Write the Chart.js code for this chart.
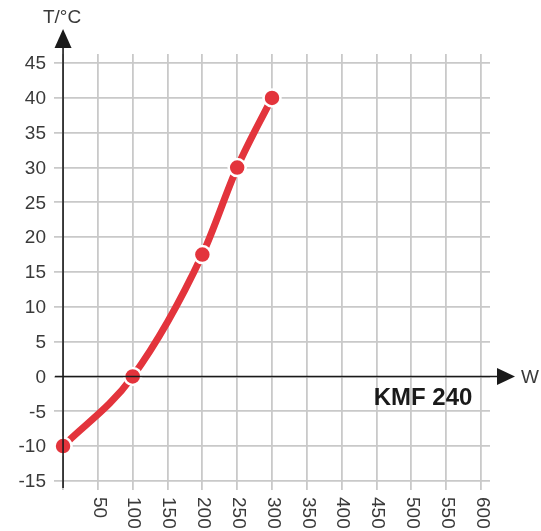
<!DOCTYPE html>
<html>
<head>
<meta charset="utf-8">
<script src="https://cdn.jsdelivr.net/npm/chart.js@4/dist/chart.umd.min.js"></script>
<style>
  html, body { margin: 0; padding: 0; background: #fff; }
  #wrap { width: 541px; height: 531px; }
</style>
</head>
<body>
<div id="wrap"><canvas id="kmf"></canvas></div>
<script>
  // data
  var powerW = [0, 100, 200, 250, 300];
  var tempC = [-10, 0, 17.5, 30, 40];
  var xTicks = [0, 50, 100, 150, 200, 250, 300, 350, 400, 450, 500, 550, 600];
  var yTicks = [-15, -10, -5, 0, 5, 10, 15, 20, 25, 30, 35, 40, 45];
  var label = "KMF 240";

  var RED = "#e3343c", INK = "#1a1a1a", TXT = "#3a3a3a";
  var FONT = "'Liberation Sans', Arial, sans-serif";

  // axes with arrows, tick labels and the curve name
  var axesPlugin = {
    id: "axes",
    afterDraw: function (c) {
      var ctx = c.ctx, xs = c.scales.x, ys = c.scales.y, a = c.chartArea;
      var x0 = xs.getPixelForValue(0), y0 = ys.getPixelForValue(0);
      ctx.save();
      ctx.strokeStyle = INK; ctx.fillStyle = INK; ctx.lineWidth = 1.6;
      ctx.beginPath();
      ctx.moveTo(x0, a.bottom - 2); ctx.lineTo(x0, 40);
      ctx.moveTo(a.left + 1, y0); ctx.lineTo(502, y0);
      ctx.stroke();
      ctx.beginPath();
      ctx.moveTo(x0, 29); ctx.lineTo(x0 - 8.5, 48); ctx.lineTo(x0 + 8.5, 48); ctx.closePath(); ctx.fill();
      ctx.beginPath();
      ctx.moveTo(515, y0); ctx.lineTo(497, y0 - 8.5); ctx.lineTo(497, y0 + 8.5); ctx.closePath(); ctx.fill();

      ctx.fillStyle = TXT;
      ctx.font = "19px " + FONT;
      ctx.textAlign = "center"; ctx.textBaseline = "middle";
      ctx.fillText("T/°C", x0 - 1, 18);
      ctx.textAlign = "left";
      ctx.fillText("W", 521, y0 + 1);

      ctx.textAlign = "right";
      ys.ticks.forEach(function (t) {
        ctx.fillText(String(t.value), 46, ys.getPixelForValue(t.value) + 1);
      });
      xs.ticks.forEach(function (t) {
        if (t.value === 0) return;
        ctx.save();
        ctx.translate(xs.getPixelForValue(t.value) + 1, 497);
        ctx.rotate(Math.PI / 2);
        ctx.textAlign = "left"; ctx.textBaseline = "middle";
        ctx.fillText(String(t.value), 0, 0);
        ctx.restore();
      });

      ctx.fillStyle = INK;
      ctx.font = "bold 24px " + FONT;
      ctx.textAlign = "center"; ctx.textBaseline = "alphabetic";
      ctx.fillText(label, 423, 405);
      ctx.restore();
    }
  };

  new Chart(document.getElementById("kmf"), {
    type: "line",
    data: {
      datasets: [{
        label: label,
        data: powerW.map(function (w, i) { return { x: w, y: tempC[i] }; }),
        borderColor: RED,
        backgroundColor: RED,
        borderWidth: 7,
        pointRadius: 8.5,
        pointBorderWidth: 2.5,
        pointBorderColor: "#fff",
        pointBackgroundColor: RED,
        cubicInterpolationMode: "monotone",
        clip: false
      }]
    },
    options: {
      responsive: true,
      maintainAspectRatio: false,
      animation: false,
      layout: { padding: { left: 54, top: 54, right: 51, bottom: 41 } },
      plugins: { legend: { display: false }, tooltip: { enabled: false } },
      scales: {
        x: {
          type: "linear", min: -13, max: 613,
          afterBuildTicks: function (s) { s.ticks = xTicks.map(function (v) { return { value: v }; }); },
          ticks: { display: false },
          border: { display: false },
          grid: { color: "#c9c9c9", lineWidth: 1.8, drawTicks: false }
        },
        y: {
          type: "linear", min: -16.3, max: 46.3,
          afterBuildTicks: function (s) { s.ticks = yTicks.map(function (v) { return { value: v }; }); },
          ticks: { display: false },
          border: { display: false },
          grid: { color: "#c9c9c9", lineWidth: 1.8, drawTicks: false }
        }
      }
    },
    plugins: [axesPlugin]
  });
</script>
</body>
</html>
